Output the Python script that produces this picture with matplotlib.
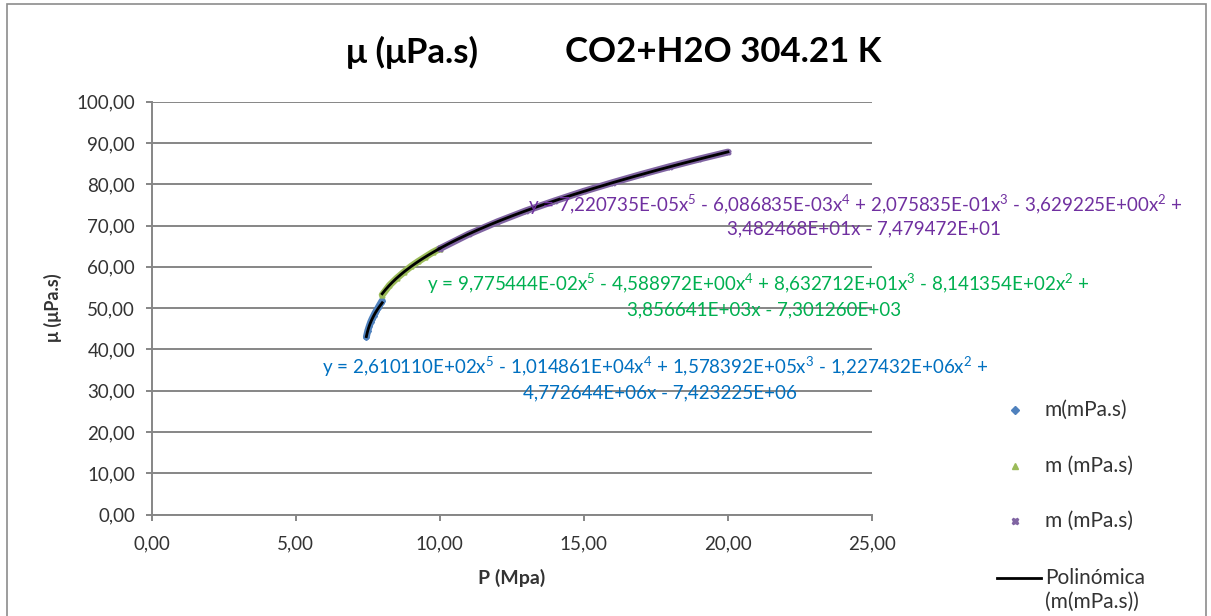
import numpy as np
import matplotlib
matplotlib.use("Agg")
import matplotlib.pyplot as plt
from matplotlib.lines import Line2D
from matplotlib.patches import Rectangle

plt.rcParams['font.family'] = ['Lato', 'DejaVu Sans']
plt.rcParams['mathtext.fontset'] = 'custom'
plt.rcParams['mathtext.rm'] = 'Lato'
plt.rcParams['mathtext.it'] = 'Lato'
plt.rcParams['mathtext.default'] = 'regular'

# Viscosity of CO2+H2O at 304.21 K, three pressure ranges
p_low = [7.45, 7.50, 7.55, 7.60, 7.65, 7.70, 7.75, 7.80, 7.85, 7.90, 7.95, 8.00]
mu_low = [43.0, 44.5, 45.6, 46.6, 47.4, 48.1, 48.8, 49.4, 50.0, 50.6, 51.2, 51.8]

p_mid = [8.00, 8.25, 8.50, 8.75, 9.00, 9.25, 9.50, 9.75, 10.00]
mu_mid = [53.2, 55.5, 57.2, 58.7, 60.1, 61.3, 62.4, 63.5, 64.4]

p_high = [10.0, 11.0, 12.0, 13.0, 14.0, 15.0, 16.0, 17.0, 18.0, 19.0, 20.0]
mu_high = [64.4, 67.9, 70.9, 73.6, 76.0, 78.3, 80.4, 82.4, 84.3, 86.1, 87.8]

# Polynomial trendline coefficients (highest power first)
coef_low = [2.610110e+02, -1.014861e+04, 1.578392e+05, -1.227432e+06, 4.772644e+06, -7.423225e+06]
coef_mid = [9.775444e-02, -4.588972e+00, 8.632712e+01, -8.141354e+02, 3.856641e+03, -7.301260e+03]
coef_high = [7.220735e-05, -6.086835e-03, 2.075835e-01, -3.629225e+00, 3.482468e+01, -7.479472e+01]

series_labels = ['m(mPa.s)', 'm (mPa.s)', 'm (mPa.s)']
trend_label = ['Polinómica', '(m(mPa.s))']

x_ticks = [0, 5, 10, 15, 20, 25]
y_ticks = [0, 10, 20, 30, 40, 50, 60, 70, 80, 90, 100]

c_low, c_mid, c_high = '#4F81BD', '#9BBB59', '#8064A2'
t_low, t_mid, t_high = '#0070C0', '#00B050', '#7030A0'
grid_c = '#868686'
txt_c = '#333333'

W, H = 1211, 616
fig = plt.figure(figsize=(W / 100, H / 100), dpi=100)
ax = fig.add_axes([151.7 / W, 1 - 514.5 / H, (872 - 151.7) / W, (514.5 - 101.7) / H])

# chart border
fig.patches.append(Rectangle((7 / W, -0.05), (1206 - 7) / W, 1 - 4 / H + 0.05,
                             transform=fig.transFigure, fill=False,
                             edgecolor='#8c8c8c', lw=1.2))

ax.set_xlim(0, 25)
ax.set_ylim(0, 100)
ax.set_xticks(x_ticks)
ax.set_yticks(y_ticks)
fmt = lambda v: f"{v:.2f}".replace('.', ',')
ax.set_xticklabels([fmt(v) for v in x_ticks])
ax.set_yticklabels([fmt(v) for v in y_ticks])
ax.grid(axis='y', color=grid_c, lw=1.4)
ax.set_axisbelow(True)
for s in ['top', 'right']:
    ax.spines[s].set_visible(False)
for s in ['left', 'bottom']:
    ax.spines[s].set_color(grid_c)
    ax.spines[s].set_linewidth(1.4)
ax.tick_params(axis='both', colors=grid_c, labelcolor=txt_c, labelsize=13.5,
               length=4, width=1.4, direction='out')
ax.tick_params(axis='y', pad=8)
ax.tick_params(axis='x', pad=11)

# data bands
for p, mu, col in [(p_low, mu_low, c_low), (p_mid, mu_mid, c_mid), (p_high, mu_high, c_high)]:
    ax.plot(p, mu, color=col, lw=5, solid_capstyle='round', zorder=2)
ax.plot(p_low, mu_low, 'D', color=c_low, ms=3, zorder=2)
ax.plot(p_mid, mu_mid, '^', color=c_mid, ms=3.5, zorder=2)
ax.plot(p_high, mu_high, 'X', color=c_high, ms=3.5, zorder=2)

# trendlines
for p, coef in [(p_low, coef_low), (p_mid, coef_mid), (p_high, coef_high)]:
    xs = np.linspace(p[0], p[-1], 200)
    ax.plot(xs, np.polyval(coef, xs), color='black', lw=2, zorder=3)

# trendline equations
def eq_lines(c):
    def f(v):
        mant, ex = f"{abs(v):.6E}".split('E')
        return mant.replace('.', ',') + 'E' + ex
    pw = ['5', '4', '3', '2']
    s = f"y = {f(c[0])}x$^{{{pw[0]}}}$"
    for i in range(1, 4):
        s += (" - " if c[i] < 0 else " + ") + f"{f(c[i])}x$^{{{pw[i]}}}$"
    s += (" -" if c[4] < 0 else " +")
    s2 = f"{f(c[4])}x" + (" - " if c[5] < 0 else " + ") + f(c[5])
    return s, s2

for c, col, x1, y1, x2, y2 in [(coef_high, t_high, 528, 205, 727, 229),
                               (coef_mid, t_mid, 427, 284, 627, 310),
                               (coef_low, t_low, 322, 367, 523, 393)]:
    l1, l2 = eq_lines(c)
    fig.text(x1 / W, 1 - y1 / H, l1, color=col, fontsize=13.5, ha='left', va='center')
    fig.text(x2 / W, 1 - y2 / H, l2, color=col, fontsize=13.5, ha='left', va='center')

# titles
fig.text(412 / W, 1 - 52 / H, 'μ (μPa.s)', fontsize=25, fontweight='bold',
         ha='center', va='center', color='black')
fig.text(565 / W, 1 - 52 / H, 'CO2+H2O 304.21 K', fontsize=25, fontweight='bold',
         ha='left', va='center', color='black')
fig.text(512 / W, 1 - 578 / H, 'P (Mpa)', fontsize=14, fontweight='bold',
         ha='center', va='center', color=txt_c)
fig.text(53 / W, 1 - 308 / H, 'μ (μPa.s)', fontsize=13, fontweight='bold',
         rotation=90, ha='center', va='center', color=txt_c)

# legend
leg_items = [('D', 4, c_low, series_labels[0], 410),
             ('^', 5, c_mid, series_labels[1], 466),
             ('X', 5, c_high, series_labels[2], 521)]
for mk, ms, col, lab, y in leg_items:
    fig.add_artist(Line2D([1015 / W], [1 - y / H], ls='none', marker=mk, ms=ms,
                          color=col, transform=fig.transFigure))
    fig.text(1045 / W, 1 - y / H, lab, fontsize=15, color=txt_c, ha='left', va='center')
fig.add_artist(Line2D([997 / W, 1041 / W], [1 - 578 / H, 1 - 578 / H], color='black',
                      lw=2, transform=fig.transFigure))
fig.text(1045 / W, 1 - 578 / H, trend_label[0], fontsize=15, color=txt_c, ha='left', va='center')
fig.text(1045 / W, 1 - 602 / H, trend_label[1], fontsize=15, color=txt_c, ha='left', va='center')

fig.savefig('out.png', dpi=100)
